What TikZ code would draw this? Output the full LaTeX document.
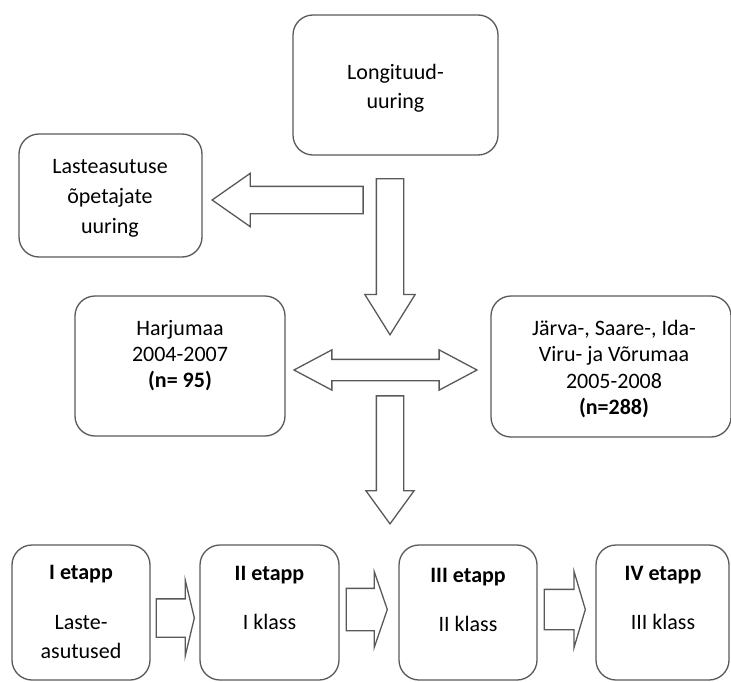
\documentclass[tikz,border=0pt]{standalone}
\usepackage{fontspec}
\setmainfont{Carlito}
\usetikzlibrary{positioning,shapes.arrows}

\begin{document}
\begin{tikzpicture}[x=1pt, y=-1pt,
    box/.style={draw=black!65, line width=1.3pt, rounded corners=20pt, inner sep=0pt},
    txt/.style={align=center, inner sep=0pt, anchor=base, font=\fontsize{22}{29}\selectfont},
    arr/.style={single arrow, draw=black!65, line width=1.3pt, inner xsep=0pt, inner ysep=#1, single arrow head indent=0pt, anchor=tip},
    dblarr/.style={double arrow, draw=black!65, line width=1.3pt, inner xsep=0pt, inner ysep=#1, double arrow head indent=0pt}]

    \useasboundingbox (0,0) rectangle (731,682);

    % boxes
    \node[box, minimum width=205pt, minimum height=140pt] (long) at (395.5,85) {};
    \node[box, minimum width=183pt, minimum height=123pt] (lasteo) at (110.5,195.5) {};
    \node[box, minimum width=210pt, minimum height=140pt] (harju) at (180,366) {};
    \node[box, minimum width=240pt, minimum height=141pt] (jarva) at (611,366.5) {};
    \node[box, minimum width=138pt, minimum height=135pt] (e1) at (81,612.5) {};
    \node[box, minimum width=139pt, minimum height=135pt] (e2) at (269.5,612.5) {};
    \node[box, minimum width=138pt, minimum height=135pt] (e3) at (468,612.5) {};
    \node[box, minimum width=133pt, minimum height=135pt] (e4) at (662.5,612.5) {};

    % texts (anchored at the last line)
    \node[txt] (longtxt) at (395.5,108.5) {Longituud-\\uuring};
    \node[txt, font=\fontsize{22}{30}\selectfont] (lasteotxt) at (110,233.5) {Lasteasutuse\\õpetajate\\uuring};
    \node[txt, font=\fontsize{22}{26}\selectfont] (harjutxt) at (180,387.5) {Harjumaa\\2004-2007\\\textbf{(n= 95)}};
    \node[txt, font=\fontsize{22}{26.3}\selectfont] (jarvatxt) at (614,414.4) {Järva-, Saare-, Ida-\\Viru- ja Võrumaa\\2005-2008\\\textbf{(n=288)}};
    \node[txt] (e1txt) at (81,658.5) {\textbf{I etapp}\\[21pt]Laste-\\asutused};
    \node[txt] (e2txt) at (269.5,629) {\textbf{II etapp}\\[20pt]I klass};
    \node[txt] (e3txt) at (468,631.5) {\textbf{III etapp}\\[20pt]II klass};
    \node[txt] (e4txt) at (663,629) {\textbf{IV etapp}\\[20pt]III klass};

    % block arrows (placed by their tips)
    \node[arr=13pt, rotate=180, minimum height=151pt,
        single arrow head extend=13pt, single arrow tip angle=70] (arrL) at (211,200) {};
    \node[arr=13pt, rotate=-90, minimum height=156pt,
        single arrow head extend=11.5pt, single arrow tip angle=64] (arrD1) at (390,336) {};
    \node[dblarr=10pt, minimum height=183pt,
        double arrow head extend=9.5pt, double arrow tip angle=56] (arrLR) at (385.5,370) {};
    \node[arr=13pt, rotate=-90, minimum height=128pt,
        single arrow head extend=10.5pt, single arrow tip angle=72] (arrD2) at (390,525) {};
    \node[arr=18.5pt, minimum height=38pt,
        single arrow head extend=19pt, single arrow tip angle=153] (a12) at (195,618) {};
    \node[arr=20.5pt, minimum height=41pt,
        single arrow head extend=17pt, single arrow tip angle=142] (a23) at (388,609.5) {};
    \node[arr=19.5pt, minimum height=41pt,
        single arrow head extend=18pt, single arrow tip angle=147] (a34) at (586,609.5) {};

\end{tikzpicture}
\end{document}
